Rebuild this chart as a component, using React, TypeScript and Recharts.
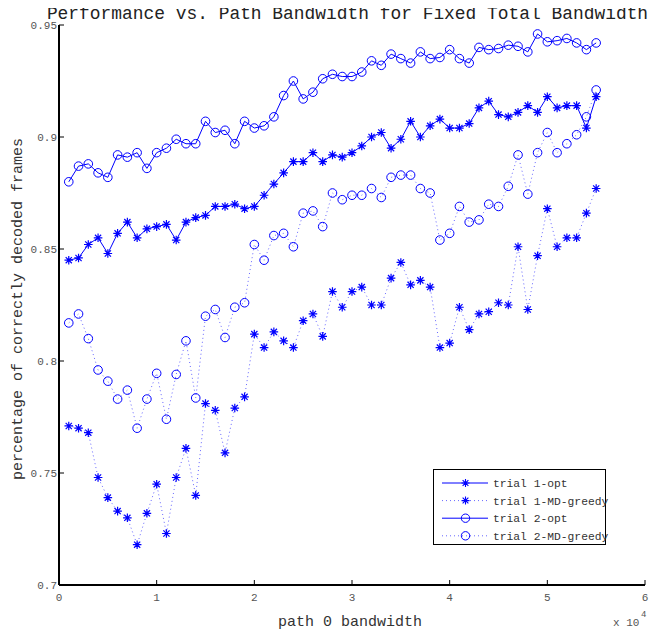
import React from 'react'
import { LineChart, Line, XAxis, YAxis, Legend } from 'recharts'

// path 0 bandwidth (x axis, shown as x 10^4)
const bandwidth = [
  1000, 2000, 3000, 4000, 5000, 6000, 7000, 8000, 9000, 10000,
  11000, 12000, 13000, 14000, 15000, 16000, 17000, 18000, 19000, 20000,
  21000, 22000, 23000, 24000, 25000, 26000, 27000, 28000, 29000, 30000,
  31000, 32000, 33000, 34000, 35000, 36000, 37000, 38000, 39000, 40000,
  41000, 42000, 43000, 44000, 45000, 46000, 47000, 48000, 49000, 50000,
  51000, 52000, 53000, 54000, 55000,
]

const trial1Opt = [
  0.845, 0.846, 0.852, 0.855, 0.848, 0.857, 0.862, 0.855, 0.859, 0.860,
  0.861, 0.854, 0.862, 0.864, 0.865, 0.869, 0.869, 0.870, 0.868, 0.869,
  0.874, 0.879, 0.884, 0.889, 0.889, 0.893, 0.889, 0.892, 0.891, 0.893,
  0.896, 0.900, 0.902, 0.895, 0.899, 0.907, 0.900, 0.905, 0.908, 0.904,
  0.904, 0.906, 0.913, 0.916, 0.910, 0.909, 0.911, 0.914, 0.911, 0.918,
  0.913, 0.914, 0.914, 0.904, 0.918,
]

const trial1Greedy = [
  0.771, 0.770, 0.768, 0.748, 0.739, 0.733, 0.730, 0.718, 0.732, 0.745,
  0.723, 0.748, 0.761, 0.740, 0.781, 0.778, 0.759, 0.779, 0.784, 0.812,
  0.806, 0.813, 0.809, 0.806, 0.818, 0.821, 0.811, 0.831, 0.824, 0.831,
  0.833, 0.825, 0.825, 0.837, 0.844, 0.834, 0.836, 0.833, 0.806, 0.808,
  0.824, 0.814, 0.821, 0.822, 0.826, 0.825, 0.851, 0.823, 0.847, 0.868,
  0.851, 0.855, 0.855, 0.866, 0.877,
]

const trial2Opt = [
  0.880, 0.887, 0.888, 0.884, 0.882, 0.892, 0.891, 0.893, 0.886, 0.893,
  0.895, 0.899, 0.897, 0.897, 0.907, 0.902, 0.903, 0.897, 0.907, 0.904,
  0.905, 0.909, 0.9185, 0.925, 0.917, 0.920, 0.926, 0.928, 0.927, 0.927,
  0.929, 0.934, 0.932, 0.937, 0.935, 0.933, 0.938, 0.935, 0.9355, 0.939,
  0.935, 0.933, 0.940, 0.939, 0.9395, 0.941, 0.9405, 0.938, 0.946, 0.9425,
  0.943, 0.944, 0.942, 0.939, 0.942,
]

const trial2Greedy = [
  0.817, 0.821, 0.810, 0.796, 0.791, 0.783, 0.787, 0.770, 0.783, 0.7945,
  0.774, 0.794, 0.809, 0.7835, 0.820, 0.823, 0.8105, 0.824, 0.826, 0.852,
  0.845, 0.856, 0.857, 0.851, 0.866, 0.867, 0.860, 0.875, 0.872, 0.874,
  0.874, 0.877, 0.873, 0.882, 0.883, 0.883, 0.877, 0.875, 0.854, 0.857,
  0.869, 0.862, 0.863, 0.870, 0.869, 0.878, 0.892, 0.8745, 0.893, 0.902,
  0.893, 0.897, 0.901, 0.909, 0.921,
]

const xTicks = [0, 10000, 20000, 30000, 40000, 50000, 60000]
const yTicks = [0.7, 0.75, 0.8, 0.85, 0.9, 0.95]

const legendLabels = ['trial 1-opt', 'trial 1-MD-greedy', 'trial 2-opt', 'trial 2-MD-greedy']

const data = bandwidth.map((x, i) => ({
  x,
  t1opt: trial1Opt[i],
  t1greedy: trial1Greedy[i],
  t2opt: trial2Opt[i],
  t2greedy: trial2Greedy[i],
}))

const BLUE = '#0000ff'
const MONO = '"Liberation Mono", "DejaVu Sans Mono", monospace'

const starPath = (cx: number, cy: number, r: number) => {
  const d = r * 0.72
  return `M${cx - r},${cy}H${cx + r}M${cx},${cy - r}V${cy + r}` +
    `M${cx - d},${cy - d}L${cx + d},${cy + d}M${cx - d},${cy + d}L${cx + d},${cy - d}`
}

const StarDot = (props: any) => {
  const { cx, cy, index } = props
  if (cx == null || cy == null) return <g key={index} />
  return <path key={index} d={starPath(cx, cy, 4.3)} stroke={BLUE} strokeWidth={1.2} fill="none" />
}

const CircleDot = (props: any) => {
  const { cx, cy, index } = props
  if (cx == null || cy == null) return <g key={index} />
  return <circle key={index} cx={cx} cy={cy} r={4.3} stroke={BLUE} strokeWidth={1} fill="none" />
}

const LegendBox = () => (
  <div style={{ width: 173, height: 76, border: '1px solid #000', background: '#fff', boxSizing: 'border-box' }}>
    <svg width={171} height={74} style={{ overflow: 'visible' }}>
      {legendLabels.map((label, i) => {
        const y = 13 + i * 17.6
        const dotted = i % 2 === 1
        return (
          <g key={label}>
            <line
              x1={8} x2={54} y1={y} y2={y}
              stroke={BLUE}
              strokeWidth={1}
              strokeDasharray={dotted ? '1 3' : undefined}
              strokeOpacity={dotted ? 0.6 : 1}
            />
            {i < 2
              ? <path d={starPath(31.5, y, 4)} stroke={BLUE} strokeWidth={1.1} fill="none" />
              : <circle cx={31.5} cy={y} r={4.2} stroke={BLUE} fill="none" />}
            <text x={59} y={y + 4} fontSize={11.3} fontFamily={MONO} fill="#333">{label}</text>
          </g>
        )
      })}
    </svg>
  </div>
)

// the wrapper covers the whole 662x633 page (cancels the body margin),
// so the title and axis labels can sit in page coordinates
export default function App() {
  return (
    <div style={{ position: 'relative', width: 662, height: 633, margin: '-8px 0 0 -8px' }}>
      <div style={{ position: 'absolute', left: 8, top: 8 }}>
        <LineChart width={654} height={617} data={data} margin={{ top: 17, right: 17, bottom: 10, left: 11 }}>
          <XAxis
            dataKey="x"
            type="number"
            domain={[0, 60000]}
            ticks={xTicks}
            tickFormatter={(v: number) => String(v / 10000)}
            allowDataOverflow
            height={30}
            tickSize={-5}
            tickMargin={13}
            axisLine={{ stroke: '#000', strokeWidth: 2 }}
            tickLine={{ stroke: '#000' }}
            tick={{ fill: '#555', fontSize: 11, fontFamily: MONO }}
          />
          <XAxis
            xAxisId="top"
            orientation="top"
            dataKey="x"
            type="number"
            domain={[0, 60000]}
            ticks={xTicks}
            allowDataOverflow
            height={0}
            tickSize={-5}
            tick={false}
            axisLine={{ stroke: '#000', strokeWidth: 1.5 }}
            tickLine={{ stroke: '#000' }}
          />
          <YAxis
            type="number"
            domain={[0.7, 0.95]}
            ticks={yTicks}
            allowDataOverflow
            width={40}
            tickSize={-5}
            tickMargin={7}
            axisLine={{ stroke: '#000', strokeWidth: 2 }}
            tickLine={{ stroke: '#000' }}
            tick={{ fill: '#555', fontSize: 11, fontFamily: MONO }}
          />
          <YAxis
            yAxisId="right"
            orientation="right"
            type="number"
            domain={[0.7, 0.95]}
            ticks={yTicks}
            allowDataOverflow
            width={0}
            tickSize={-5}
            tick={false}
            axisLine={{ stroke: '#000', strokeWidth: 1.5 }}
            tickLine={{ stroke: '#000' }}
          />
          <Legend
            layout="vertical"
            align="center"
            verticalAlign="middle"
            content={() => <LegendBox />}
            wrapperStyle={{ left: 424.7, top: 461.3, width: 173, height: 76, overflow: 'visible' }}
          />
          <Line dataKey="t1greedy" type="linear" stroke={BLUE} strokeWidth={1} strokeDasharray="1 3" strokeOpacity={0.6} dot={StarDot} isAnimationActive={false} />
          <Line dataKey="t2greedy" type="linear" stroke={BLUE} strokeWidth={1} strokeDasharray="1 3" strokeOpacity={0.6} dot={CircleDot} isAnimationActive={false} />
          <Line dataKey="t1opt" type="linear" stroke={BLUE} strokeWidth={1} dot={StarDot} isAnimationActive={false} />
          <Line dataKey="t2opt" type="linear" stroke={BLUE} strokeWidth={1} dot={CircleDot} isAnimationActive={false} />
        </LineChart>
      </div>
      <svg width={662} height={633} style={{ position: 'absolute', left: 0, top: 0, pointerEvents: 'none' }}>
        <text x={347.5} y={18.5} textAnchor="middle" fontSize={17.9} fontFamily={MONO} fill="#222">
          Performance vs. Path Bandwidth for Fixed Total Bandwidth
        </text>
        <text x={350} y={626} textAnchor="middle" fontSize={15} fontFamily={MONO} fill="#333">
          path 0 bandwidth
        </text>
        <text
          x={22}
          y={309}
          textAnchor="middle"
          fontSize={15}
          fontFamily={MONO}
          fill="#333"
          transform="rotate(-90 22 309)"
        >
          percentage of correctly decoded frames
        </text>
        <text x={613} y={626} fontSize={11} fontFamily={MONO} fill="#555">x 10</text>
        <text x={641} y={617} fontSize={9} fontFamily={MONO} fill="#555">4</text>
      </svg>
    </div>
  )
}
